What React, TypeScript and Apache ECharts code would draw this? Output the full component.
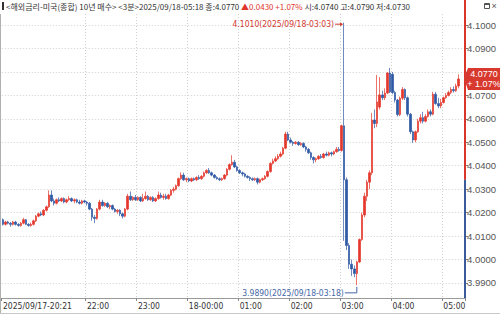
import React, { useEffect, useRef } from "react";
import * as echarts from "echarts";

// [open, close, low, high] per 3-minute bar, 2025/09/17-20:21 .. 2025/09/18-05:18
const ohlc: number[][] = [
  [4.0170, 4.0150, 4.0145, 4.0175], [4.0150, 4.0160, 4.0145, 4.0165], [4.0160, 4.0155, 4.0150, 4.0165],
  [4.0155, 4.0150, 4.0140, 4.0160], [4.0150, 4.0160, 4.0145, 4.0165], [4.0160, 4.0150, 4.0145, 4.0165],
  [4.0150, 4.0145, 4.0140, 4.0155], [4.0145, 4.0155, 4.0140, 4.0160], [4.0155, 4.0170, 4.0150, 4.0178],
  [4.0170, 4.0150, 4.0148, 4.0172], [4.0150, 4.0145, 4.0140, 4.0155], [4.0145, 4.0150, 4.0140, 4.0158],
  [4.0150, 4.0165, 4.0145, 4.0170], [4.0165, 4.0185, 4.0160, 4.0190], [4.0185, 4.0195, 4.0180, 4.0200],
  [4.0195, 4.0190, 4.0185, 4.0205], [4.0190, 4.0210, 4.0185, 4.0215], [4.0210, 4.0225, 4.0205, 4.0230],
  [4.0225, 4.0275, 4.0220, 4.0295], [4.0275, 4.0250, 4.0245, 4.0295], [4.0250, 4.0240, 4.0230, 4.0260],
  [4.0240, 4.0255, 4.0235, 4.0260], [4.0255, 4.0250, 4.0245, 4.0265], [4.0250, 4.0260, 4.0245, 4.0265],
  [4.0260, 4.0245, 4.0240, 4.0265], [4.0245, 4.0255, 4.0240, 4.0260], [4.0255, 4.0260, 4.0250, 4.0270],
  [4.0260, 4.0250, 4.0245, 4.0265], [4.0250, 4.0255, 4.0240, 4.0260], [4.0255, 4.0245, 4.0240, 4.0260],
  [4.0245, 4.0240, 4.0235, 4.0255], [4.0240, 4.0250, 4.0235, 4.0255], [4.0250, 4.0245, 4.0240, 4.0255],
  [4.0245, 4.0240, 4.0230, 4.0250], [4.0240, 4.0215, 4.0210, 4.0245], [4.0215, 4.0180, 4.0165, 4.0220],
  [4.0180, 4.0175, 4.0155, 4.0190], [4.0175, 4.0215, 4.0170, 4.0220], [4.0215, 4.0245, 4.0210, 4.0255],
  [4.0245, 4.0230, 4.0225, 4.0255], [4.0230, 4.0240, 4.0225, 4.0245], [4.0240, 4.0225, 4.0220, 4.0245],
  [4.0225, 4.0230, 4.0215, 4.0235], [4.0230, 4.0215, 4.0210, 4.0235], [4.0215, 4.0205, 4.0200, 4.0220],
  [4.0205, 4.0210, 4.0195, 4.0215], [4.0210, 4.0195, 4.0185, 4.0215], [4.0195, 4.0185, 4.0175, 4.0200],
  [4.0185, 4.0215, 4.0180, 4.0220], [4.0215, 4.0270, 4.0210, 4.0280], [4.0270, 4.0255, 4.0250, 4.0290],
  [4.0255, 4.0265, 4.0250, 4.0270], [4.0265, 4.0255, 4.0250, 4.0275], [4.0255, 4.0265, 4.0250, 4.0270],
  [4.0265, 4.0250, 4.0245, 4.0270], [4.0250, 4.0260, 4.0245, 4.0280], [4.0260, 4.0270, 4.0255, 4.0290],
  [4.0270, 4.0255, 4.0250, 4.0275], [4.0255, 4.0265, 4.0250, 4.0270], [4.0265, 4.0250, 4.0245, 4.0270],
  [4.0250, 4.0260, 4.0245, 4.0265], [4.0260, 4.0275, 4.0255, 4.0290], [4.0275, 4.0265, 4.0260, 4.0285],
  [4.0265, 4.0270, 4.0255, 4.0280], [4.0270, 4.0260, 4.0255, 4.0280], [4.0260, 4.0275, 4.0255, 4.0280],
  [4.0275, 4.0295, 4.0270, 4.0300], [4.0295, 4.0300, 4.0285, 4.0310], [4.0300, 4.0315, 4.0295, 4.0320],
  [4.0315, 4.0345, 4.0310, 4.0350], [4.0345, 4.0360, 4.0340, 4.0372], [4.0360, 4.0340, 4.0335, 4.0370],
  [4.0340, 4.0345, 4.0330, 4.0350], [4.0345, 4.0335, 4.0330, 4.0350], [4.0335, 4.0345, 4.0330, 4.0350],
  [4.0345, 4.0340, 4.0335, 4.0350], [4.0340, 4.0350, 4.0335, 4.0355], [4.0350, 4.0345, 4.0340, 4.0360],
  [4.0345, 4.0355, 4.0340, 4.0360], [4.0355, 4.0370, 4.0350, 4.0375], [4.0370, 4.0380, 4.0365, 4.0385],
  [4.0380, 4.0370, 4.0365, 4.0390], [4.0370, 4.0360, 4.0355, 4.0375], [4.0360, 4.0350, 4.0345, 4.0365],
  [4.0350, 4.0345, 4.0340, 4.0355], [4.0345, 4.0340, 4.0335, 4.0350], [4.0340, 4.0345, 4.0335, 4.0350],
  [4.0345, 4.0360, 4.0340, 4.0365], [4.0360, 4.0385, 4.0355, 4.0390], [4.0385, 4.0405, 4.0380, 4.0410],
  [4.0405, 4.0415, 4.0400, 4.0445], [4.0415, 4.0395, 4.0390, 4.0425], [4.0395, 4.0380, 4.0375, 4.0400],
  [4.0380, 4.0370, 4.0365, 4.0385], [4.0370, 4.0365, 4.0355, 4.0375], [4.0365, 4.0355, 4.0350, 4.0370],
  [4.0355, 4.0350, 4.0345, 4.0360], [4.0350, 4.0345, 4.0335, 4.0355], [4.0345, 4.0340, 4.0335, 4.0350],
  [4.0340, 4.0345, 4.0335, 4.0350], [4.0345, 4.0330, 4.0320, 4.0350], [4.0330, 4.0340, 4.0325, 4.0345],
  [4.0340, 4.0345, 4.0335, 4.0350], [4.0345, 4.0355, 4.0340, 4.0360], [4.0355, 4.0375, 4.0350, 4.0380],
  [4.0375, 4.0410, 4.0370, 4.0415], [4.0410, 4.0420, 4.0405, 4.0430], [4.0420, 4.0430, 4.0415, 4.0440],
  [4.0430, 4.0440, 4.0425, 4.0450], [4.0440, 4.0450, 4.0435, 4.0460], [4.0450, 4.0475, 4.0445, 4.0480],
  [4.0475, 4.0535, 4.0470, 4.0545], [4.0535, 4.0510, 4.0505, 4.0545], [4.0510, 4.0500, 4.0495, 4.0520],
  [4.0500, 4.0495, 4.0485, 4.0505], [4.0495, 4.0500, 4.0490, 4.0505], [4.0500, 4.0490, 4.0485, 4.0505],
  [4.0490, 4.0495, 4.0485, 4.0500], [4.0495, 4.0480, 4.0475, 4.0500], [4.0480, 4.0470, 4.0460, 4.0485],
  [4.0470, 4.0455, 4.0450, 4.0475], [4.0455, 4.0435, 4.0425, 4.0460], [4.0435, 4.0425, 4.0410, 4.0440],
  [4.0425, 4.0430, 4.0415, 4.0435], [4.0430, 4.0440, 4.0425, 4.0445], [4.0440, 4.0435, 4.0430, 4.0450],
  [4.0435, 4.0450, 4.0430, 4.0455], [4.0450, 4.0445, 4.0440, 4.0460], [4.0445, 4.0455, 4.0440, 4.0460],
  [4.0455, 4.0450, 4.0440, 4.0460], [4.0450, 4.0460, 4.0445, 4.0465], [4.0460, 4.0470, 4.0455, 4.0480],
  [4.0470, 4.0465, 4.0460, 4.0480], [4.0465, 4.0570, 4.0460, 4.0575], [4.0570, 4.0340, 4.0080, 4.1010],
  [4.0340, 4.0060, 4.0040, 4.0350], [4.0060, 3.9980, 3.9960, 4.0070], [3.9980, 3.9960, 3.9930, 4.0000],
  [3.9960, 3.9940, 3.9925, 3.9975], [3.9940, 3.9990, 3.9890, 3.9995], [3.9990, 4.0085, 3.9985, 4.0090],
  [4.0085, 4.0190, 4.0080, 4.0200], [4.0190, 4.0270, 4.0180, 4.0285], [4.0270, 4.0330, 4.0250, 4.0340],
  [4.0330, 4.0370, 4.0300, 4.0380], [4.0370, 4.0595, 4.0360, 4.0625], [4.0595, 4.0580, 4.0560, 4.0640],
  [4.0580, 4.0672, 4.0565, 4.0787], [4.0650, 4.0702, 4.0640, 4.0778], [4.0702, 4.0690, 4.0680, 4.0720],
  [4.0690, 4.0710, 4.0680, 4.0730], [4.0710, 4.0795, 4.0705, 4.0800], [4.0795, 4.0715, 4.0710, 4.0817],
  [4.0790, 4.0712, 4.0705, 4.0800], [4.0712, 4.0680, 4.0670, 4.0720], [4.0680, 4.0618, 4.0610, 4.0685],
  [4.0618, 4.0688, 4.0612, 4.0695], [4.0688, 4.0725, 4.0680, 4.0735], [4.0725, 4.0690, 4.0680, 4.0730],
  [4.0690, 4.0620, 4.0610, 4.0695], [4.0620, 4.0545, 4.0535, 4.0625], [4.0545, 4.0510, 4.0497, 4.0550],
  [4.0510, 4.0545, 4.0500, 4.0550], [4.0545, 4.0590, 4.0540, 4.0600], [4.0590, 4.0605, 4.0580, 4.0620],
  [4.0605, 4.0590, 4.0580, 4.0630], [4.0590, 4.0610, 4.0585, 4.0620], [4.0610, 4.0630, 4.0605, 4.0640],
  [4.0630, 4.0620, 4.0610, 4.0640], [4.0620, 4.0705, 4.0615, 4.0715], [4.0705, 4.0665, 4.0660, 4.0715],
  [4.0665, 4.0655, 4.0645, 4.0690], [4.0655, 4.0670, 4.0645, 4.0685], [4.0670, 4.0690, 4.0665, 4.0695],
  [4.0690, 4.0700, 4.0685, 4.0710], [4.0700, 4.0712, 4.0695, 4.0720], [4.0712, 4.0725, 4.0705, 4.0735],
  [4.0725, 4.0720, 4.0712, 4.0738], [4.0720, 4.0740, 4.0715, 4.0750], [4.0740, 4.0770, 4.0730, 4.0790],
];

const yTicks = [3.99, 4.0, 4.01, 4.02, 4.03, 4.04, 4.05, 4.06, 4.07, 4.08, 4.09, 4.1];
// 4.0800 label sits under the last-price tag, so it is not drawn
const yLabels = [3.99, 4.0, 4.01, 4.02, 4.03, 4.04, 4.05, 4.06, 4.07, 4.09, 4.1];
const prevClose = 4.034;
const lastClose = 4.077;
const lastPct = "+ 1.07%";
const headerMain = "<해외금리-미국(종합) 10년 매수> <3분>2025/09/18-05:18 종:4.0770 ";
const headerChange = "▲0.0430 +1.07%";
const headerRest = " 시:4.0740 고:4.0790 저:4.0730";

const pad = (n: number) => (n < 10 ? "0" + n : "" + n);
const categories: string[] = [];
{
  let h = 20, m = 21, day = 17;
  for (let i = 0; i < ohlc.length; i++) {
    categories.push(`2025/09/${day}-${pad(h)}:${pad(m)}`);
    m += 3;
    if (m >= 60) { m -= 60; h += 1; if (h >= 24) { h = 0; day = 18; } }
  }
}

const Y_MIN = 3.9836;
const Y_MAX = 4.1047;
const UP = "#e4382d";
const DOWN = "#2f58a5";
const NARROW = "'Liberation Sans Narrow', 'DejaVu Sans Condensed', 'Liberation Sans', sans-serif";
const HEAD = "'Liberation Sans Narrow', 'Noto Sans CJK KR', sans-serif";

// first bar label, then whole hours far enough from it
const isLabel = (i: number) => {
  const v = categories[i];
  if (!v) return false;
  return i === 0 || (i >= 20 && v.endsWith(":00"));
};

export default function App() {
  const ref = useRef<HTMLDivElement>(null);
  useEffect(() => {
    const chart = echarts.init(ref.current!, null, { renderer: "svg" });
    chart.setOption({
      animation: false,
      backgroundColor: "#fff",
      grid: { left: 0, right: 35, top: 14, bottom: 16, containLabel: false },
      xAxis: {
        type: "category",
        data: [...categories, "", ""],
        boundaryGap: true,
        axisLine: { lineStyle: { color: "#9a9a9a", width: 1 } },
        axisTick: { show: true, interval: (i: number) => isLabel(i), length: 3, lineStyle: { color: "#888" } },
        axisLabel: {
          interval: (i: number) => isLabel(i),
          formatter: (v: string, i: number) => (i === 0 ? v : v.endsWith("00:00") ? v.slice(8) : v.slice(11)),
          align: "left",
          margin: 3,
          fontSize: 8.5,
          color: "#333",
          fontFamily: NARROW,
          hideOverlap: false,
        },
        splitLine: {
          show: true,
          interval: (i: number) => i !== 0 && isLabel(i),
          lineStyle: { type: [1, 2], color: "#cfcfcf", width: 1 },
        },
      },
      yAxis: {
        type: "value",
        position: "right",
        min: Y_MIN,
        max: Y_MAX,
        axisLine: { show: false },
        axisTick: { show: true, customValues: yTicks, length: 3, lineStyle: { color: "#777" } },
        axisLabel: {
          customValues: yLabels,
          formatter: (v: number) => v.toFixed(4),
          margin: 2,
          fontSize: 9.5,
          color: "#555",
          fontFamily: "'Liberation Sans', sans-serif",
        },
        splitLine: { show: false },
      },
      series: [
        {
          type: "candlestick",
          data: ohlc,
          barWidth: 2,
          itemStyle: { color: UP, color0: DOWN, borderColor: UP, borderColor0: DOWN, borderWidth: 0.7 },
          markLine: {
            silent: true,
            symbol: ["none", "none"],
            label: { show: false },
            z: 1,
            lineStyle: { type: [1, 2], color: "#cfcfcf", width: 1 },
            data: yTicks.map((v) => ({ yAxis: v })),
          },
        },
      ],
    });

    let hiIdx = 0, loIdx = 0;
    ohlc.forEach((d, i) => {
      if (d[3] > ohlc[hiIdx][3]) hiIdx = i;
      if (d[2] < ohlc[loIdx][2]) loIdx = i;
    });
    const hiVal = ohlc[hiIdx][3];
    const loVal = ohlc[loIdx][2];
    const [hx, hy] = chart.convertToPixel({ seriesIndex: 0 }, [hiIdx, hiVal]) as number[];
    const [lx, ly] = chart.convertToPixel({ seriesIndex: 0 }, [loIdx, loVal]) as number[];
    const yPrev = chart.convertToPixel({ yAxisIndex: 0 }, prevClose) as number;
    const yLast = chart.convertToPixel({ yAxisIndex: 0 }, lastClose) as number;
    const axX = 465;
    const bottomY = 298;

    chart.setOption({
      graphic: {
        elements: [
          { type: "rect", z: 100, shape: { x: 2, y: 2, width: 2, height: 8 }, style: { fill: "#333" } },
          {
            type: "text", z: 100, x: 6, y: 6,
            style: {
              text: `{a|${headerMain}}{b|${headerChange}}{a|${headerRest}}`,
              verticalAlign: "middle",
              rich: {
                a: { fill: "#333", fontSize: 8, fontFamily: HEAD },
                b: { fill: "#e0362c", fontSize: 8, fontFamily: HEAD },
              },
            },
          },
          { type: "rect", z: 100, shape: { x: 484.5, y: 3.5, width: 5, height: 5 }, style: { fill: "#fff", stroke: "#555", lineWidth: 1 } },
          { type: "rect", z: 100, shape: { x: 484.5, y: 3.5, width: 5, height: 1.5 }, style: { fill: "#555" } },
          { type: "text", z: 100, x: 494, y: 6, style: { text: "×", fontSize: 9, fill: "#555", align: "center", verticalAlign: "middle", fontFamily: "'Liberation Sans', sans-serif" } },
          { type: "line", z: 50, shape: { x1: axX, y1: 0, x2: axX, y2: yPrev }, style: { stroke: "#d9352b", lineWidth: 2 } },
          { type: "line", z: 50, shape: { x1: axX, y1: yPrev, x2: axX, y2: bottomY }, style: { stroke: "#3a5a9c", lineWidth: 2 } },
          { type: "line", z: 50, shape: { x1: 0.5, y1: 14, x2: 0.5, y2: 314 }, style: { stroke: "#b0b0b0", lineWidth: 1 } },
          { type: "line", z: 50, shape: { x1: 0, y1: 313.5, x2: 500, y2: 313.5 }, style: { stroke: "#c8c8c8", lineWidth: 1 } },
          {
            type: "polygon", z: 110,
            shape: { points: [[axX - 1, yLast - 1], [axX + 3, yLast - 11], [500, yLast - 11], [500, yLast + 11], [axX + 3, yLast + 11]] },
            style: { fill: "#d8392f" },
          },
          { type: "text", z: 111, x: 484, y: yLast - 5, style: { text: lastClose.toFixed(4), fill: "#fff", fontSize: 9, align: "center", verticalAlign: "middle", fontFamily: "'Liberation Sans', sans-serif" } },
          { type: "text", z: 111, x: 484, y: yLast + 5, style: { text: lastPct, fill: "#fff", fontSize: 9, align: "center", verticalAlign: "middle", fontFamily: "'Liberation Sans', sans-serif" } },
          {
            type: "text", z: 100, x: hx - 10, y: hy + 1.5,
            style: { text: `${hiVal.toFixed(4)}(${categories[hiIdx]})`, fill: "#d23a30", fontSize: 8.5, align: "right", verticalAlign: "middle", fontFamily: NARROW },
          },
          { type: "line", z: 100, shape: { x1: hx - 9, y1: hy + 1.5, x2: hx - 3, y2: hy + 1.5 }, style: { stroke: "#d23a30", lineWidth: 1 } },
          { type: "polygon", z: 100, shape: { points: [[hx - 1, hy + 1.5], [hx - 4, hy - 0.5], [hx - 4, hy + 3.5]] }, style: { fill: "#d23a30" } },
          {
            type: "text", z: 100, x: lx - 13, y: ly + 7.5,
            style: { text: `${loVal.toFixed(4)}(${categories[loIdx]})`, fill: "#4566a6", fontSize: 8.5, align: "right", verticalAlign: "middle", fontFamily: NARROW },
          },
          { type: "polyline", z: 100, shape: { points: [[lx - 12, ly + 7.5], [lx, ly + 7.5], [lx, ly + 1.5]] }, style: { stroke: "#4566a6", lineWidth: 1, fill: "none" } },
        ],
      },
    });
    return () => chart.dispose();
  }, []);
  return <div ref={ref} style={{ position: "absolute", left: 0, top: 0, width: 500, height: 314 }} />;
}
